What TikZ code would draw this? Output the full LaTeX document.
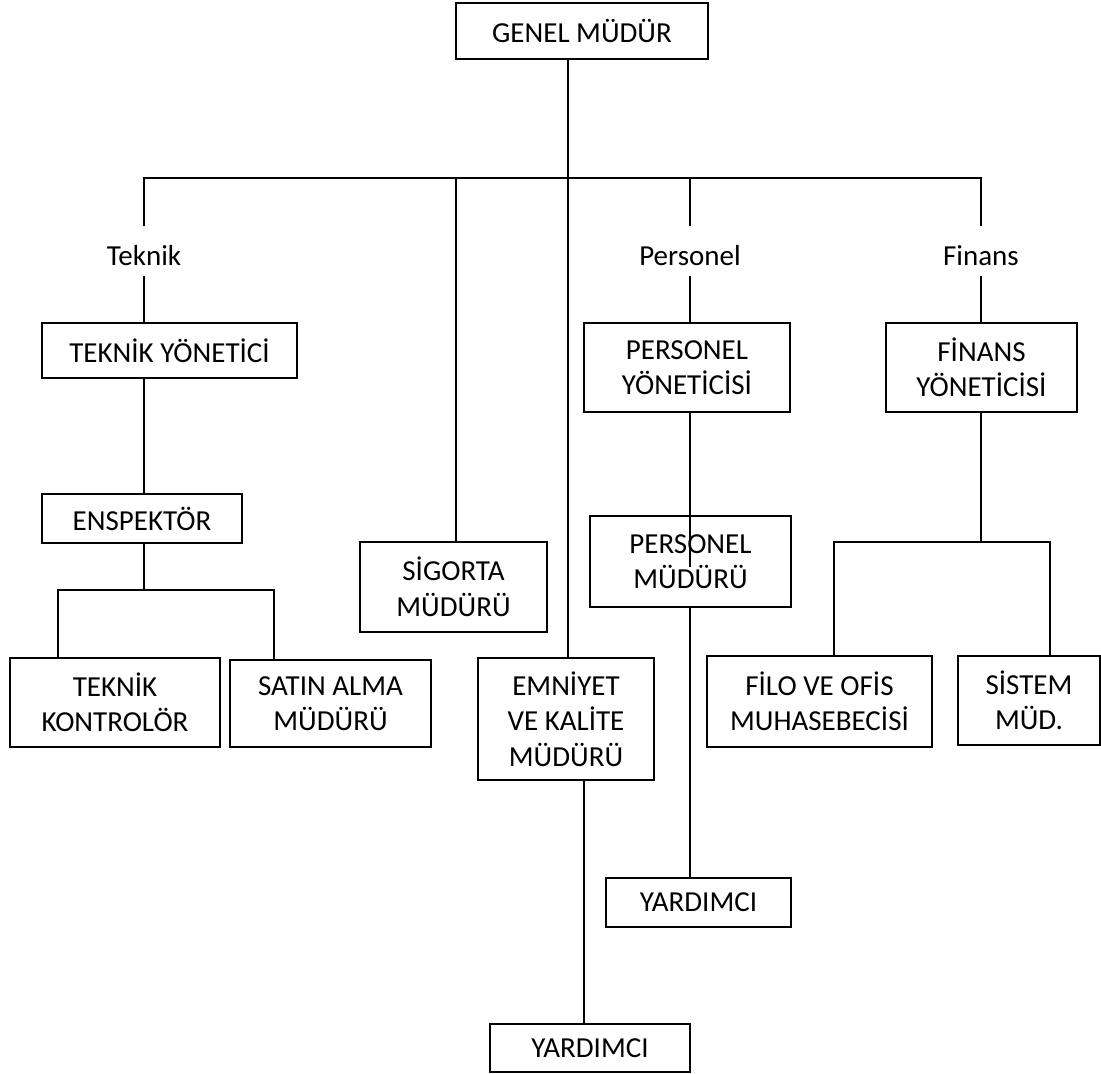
\documentclass[tikz,border=0pt]{standalone}
\usepackage{fontspec}
\setmainfont{Carlito}

\begin{document}
\begin{tikzpicture}[x=1pt,y=-1pt,line width=1.4pt,
    font=\fontsize{29}{35.5}\selectfont,
    box/.style 2 args={draw,align=center,inner sep=2pt,minimum width=#1,minimum height=#2},
    lbl/.style={inner sep=0pt,anchor=base,text height=38pt,text depth=10pt}]

    \useasboundingbox (0,0) rectangle (1101,1074);

    % kutular
    \node[box={252}{56}] (gm) at (582,31) {GENEL MÜDÜR};

    \node[box={255}{55}] (ty) at (169.5,350.5) {TEKNİK YÖNETİCİ};
    \node[box={200}{49}] (ens) at (142,518.5) {ENSPEKTÖR};
    \node[box={210}{89}] (tk) at (115,702.5) {TEKNİK\\KONTROLÖR};
    \node[box={201}{87}] (sa) at (330.5,703.5) {SATIN ALMA\\MÜDÜRÜ};

    \node[box={187}{90}] (sig) at (453.5,587) {SİGORTA\\MÜDÜRÜ};
    \node[box={176}{122}] (emn) at (566,719) {EMNİYET\\VE KALİTE\\MÜDÜRÜ};
    \node[box={200}{48}] (yrd2) at (590,1048) {YARDIMCI};

    \node[box={206}{89}] (py) at (687,367.5) {PERSONEL\\YÖNETİCİSİ};
    \node[box={201}{91}] (pm) at (690.5,561.5) {PERSONEL\\MÜDÜRÜ};
    \node[box={185}{49}] (yrd1) at (698.5,902.5) {YARDIMCI};

    \node[box={191}{89}] (fy) at (981.5,367.5) {FİNANS\\YÖNETİCİSİ};
    \node[box={225}{91}] (filo) at (819.5,701.5) {FİLO VE OFİS\\MUHASEBECİSİ};
    \node[box={142}{89}] (sis) at (1029,700.5) {SİSTEM\\MÜD.};

    % dal etiketleri
    \node[lbl] (tek) at (144,265) {Teknik};
    \node[lbl] (per) at (690,265) {Personel};
    \node[lbl] (fin) at (981,265) {Finans};

    % baglanti noktalari
    \coordinate (ust) at (568,178);
    \coordinate (jsig) at (456,178);
    \coordinate (jper) at (690,178);
    \coordinate (tbl) at (58,590);
    \coordinate (tbr) at (274,590);
    \coordinate (fbl) at (834,542);
    \coordinate (fbr) at (1050,542);
    \coordinate (pmic) at (690,567);
    \coordinate (emx) at (584,0);

    % ana hat
    \draw (gm.south -| ust) -- (emn.north -| ust);
    \draw (tek.north) |- (ust) -| (fin.north);
    \draw (jsig) -- (sig.north -| jsig);
    \draw (jper) -- (per.north);

    % teknik
    \draw (tek.south) -- (tek.south |- ty.north);
    \draw (tek.south |- ty.south) -- (tek.south |- ens.north);
    \draw (tek.south |- ens.south) -- (tek.south |- tbl);
    \draw (tk.north -| tbl) |- (tbr) -- (sa.north -| tbr);

    % personel
    \draw (per.south) -- (per.south |- py.north);
    \draw (per.south |- py.south) -- (pmic);
    \draw (per.south |- pm.south) -- (per.south |- yrd1.north);

    % emniyet
    \draw (emn.south -| emx) -- (yrd2.north -| emx);

    % finans
    \draw (fin.south) -- (fin.south |- fy.north);
    \draw (fin.south |- fy.south) -- (fin.south |- fbl);
    \draw (filo.north -| fbl) |- (fbr) -- (sis.north -| fbr);

\end{tikzpicture}
\end{document}
